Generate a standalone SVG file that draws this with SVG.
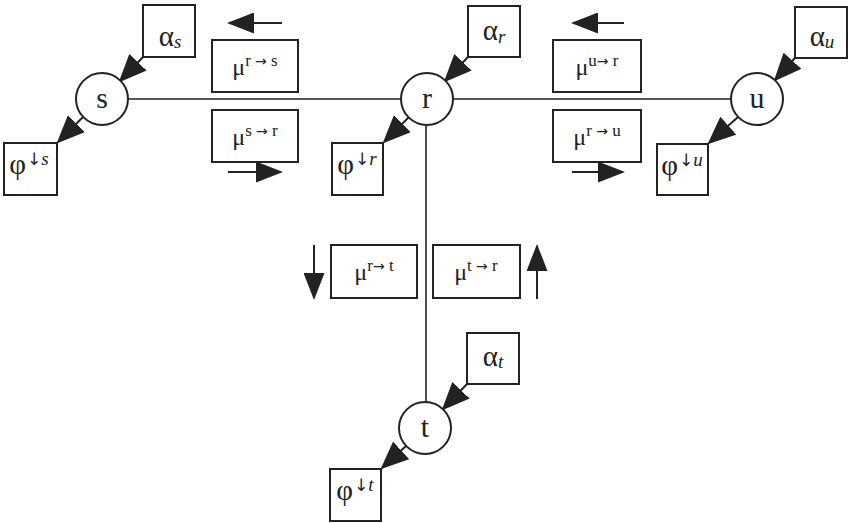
<svg xmlns="http://www.w3.org/2000/svg" width="851" height="523" viewBox="0 0 851 523">
<style>
.box{fill:#fff;stroke:#222;stroke-width:2}
.node{fill:#fff;stroke:#222;stroke-width:2}
.ln{stroke:#222;stroke-width:1.6;fill:none}
.ar{stroke:#222;stroke-width:2;fill:none;marker-end:url(#ah)}
.ad{stroke:#222;stroke-width:2;fill:none;marker-end:url(#ahd)}
text{font-family:"Liberation Serif","DejaVu Serif",serif;fill:#222}
.nl{font-size:30px;text-anchor:middle}
.gk{font-size:29px;text-anchor:middle}
.mu{font-size:24px;text-anchor:middle}
.ph{font-size:29px;text-anchor:middle}
.sup{font-size:17px}
.arw{font-family:"DejaVu Sans",sans-serif;font-size:14px}
.dn{font-family:"DejaVu Sans",sans-serif;font-size:17px}
.it{font-style:italic;font-size:19px}
</style>
<defs>
<marker id="ah" markerUnits="userSpaceOnUse" markerWidth="27" markerHeight="21" refX="25" refY="10.5" orient="auto" viewBox="0 0 27 21">
<path d="M0,0 L27,10.5 L0,21 z" fill="#222"/>
</marker>
<marker id="ahd" markerUnits="userSpaceOnUse" markerWidth="28" markerHeight="24" refX="26" refY="12" orient="auto" viewBox="0 0 28 24">
<path d="M0,0 L28,12 L0,24 z" fill="#222"/>
</marker>
</defs>
<g id="connectors">
<line class="ln" x1="127" y1="99" x2="731" y2="99"/>
<line class="ln" x1="426" y1="125" x2="426" y2="402"/>
<line class="ad" x1="143" y1="57" x2="120" y2="81"/>
<line class="ad" x1="468" y1="57" x2="445" y2="81"/>
<line class="ad" x1="795" y1="58" x2="775" y2="80"/>
<line class="ad" x1="467" y1="384" x2="443" y2="409"/>
<line class="ad" x1="83" y1="117" x2="58" y2="142"/>
<line class="ad" x1="409" y1="117" x2="384" y2="142"/>
<line class="ad" x1="738" y1="117" x2="709" y2="143"/>
<line class="ad" x1="406" y1="446" x2="382" y2="468"/>
<line class="ar" x1="282" y1="23" x2="229" y2="23"/>
<line class="ar" x1="228" y1="172" x2="281" y2="172"/>
<line class="ar" x1="624" y1="23" x2="573" y2="23"/>
<line class="ar" x1="572" y1="172" x2="623" y2="172"/>
<line class="ar" x1="314" y1="245" x2="314" y2="298"/>
<line class="ar" x1="537" y1="299" x2="537" y2="246"/>
</g>
<g id="node-s"><circle class="node" cx="102" cy="99" r="26"/><text class="nl" x="102" y="108">s</text></g>
<g id="node-r"><circle class="node" cx="427" cy="99" r="26"/><text class="nl" x="427" y="108">r</text></g>
<g id="node-u"><circle class="node" cx="757" cy="99" r="26"/><text class="nl" x="757" y="108">u</text></g>
<g id="node-t"><circle class="node" cx="425" cy="428" r="26"/><text class="nl" x="425" y="437">t</text></g>
<g id="alpha-s"><rect class="box" x="143" y="5" width="52" height="52"/><text class="gk" x="170" y="46">α<tspan class="it" dy="2">s</tspan></text></g>
<g id="alpha-r"><rect class="box" x="468" y="6" width="52" height="51"/><text class="gk" x="494" y="40">α<tspan class="it" dy="3">r</tspan></text></g>
<g id="alpha-u"><rect class="box" x="795" y="7" width="52" height="51"/><text class="gk" x="822" y="46">α<tspan class="it" dy="2">u</tspan></text></g>
<g id="alpha-t"><rect class="box" x="467" y="333" width="52" height="51"/><text class="gk" x="493" y="366">α<tspan class="it" dy="2">t</tspan></text></g>
<g id="phi-s"><rect class="box" x="4" y="143" width="53" height="52"/><text class="ph" x="29" y="174">φ<tspan class="dn" dx="1" dy="-9">↓</tspan><tspan class="it">s</tspan></text></g>
<g id="phi-r"><rect class="box" x="332" y="143" width="51" height="52"/><text class="ph" x="357" y="174">φ<tspan class="dn" dx="1" dy="-9">↓</tspan><tspan class="it">r</tspan></text></g>
<g id="phi-u"><rect class="box" x="657" y="144" width="51" height="51"/><text class="ph" x="682" y="175">φ<tspan class="dn" dx="1" dy="-9">↓</tspan><tspan class="it">u</tspan></text></g>
<g id="phi-t"><rect class="box" x="330" y="469" width="51" height="52"/><text class="ph" x="355" y="500">φ<tspan class="dn" dx="1" dy="-9">↓</tspan><tspan class="it">t</tspan></text></g>
<g id="mu-r-s"><rect class="box" x="212" y="40" width="86" height="52"/><text class="mu" x="255" y="75">μ<tspan class="sup" dy="-9">r </tspan><tspan class="arw">→</tspan><tspan class="sup"> s</tspan></text></g>
<g id="mu-s-r"><rect class="box" x="212" y="110" width="86" height="52"/><text class="mu" x="255" y="145">μ<tspan class="sup" dy="-9">s </tspan><tspan class="arw">→</tspan><tspan class="sup"> r</tspan></text></g>
<g id="mu-u-r"><rect class="box" x="553" y="40" width="88" height="52"/><text class="mu" x="597" y="75">μ<tspan class="sup" dy="-9">u</tspan><tspan class="arw">→</tspan><tspan class="sup"> r</tspan></text></g>
<g id="mu-r-u"><rect class="box" x="553" y="110" width="88" height="52"/><text class="mu" x="597" y="145">μ<tspan class="sup" dy="-9">r </tspan><tspan class="arw">→</tspan><tspan class="sup"> u</tspan></text></g>
<g id="mu-r-t"><rect class="box" x="331" y="245" width="86" height="53"/><text class="mu" x="374" y="280">μ<tspan class="sup" dy="-9">r</tspan><tspan class="arw">→</tspan><tspan class="sup"> t</tspan></text></g>
<g id="mu-t-r"><rect class="box" x="433" y="245" width="87" height="53"/><text class="mu" x="476" y="280">μ<tspan class="sup" dy="-9">t </tspan><tspan class="arw">→</tspan><tspan class="sup"> r</tspan></text></g>
</svg>
